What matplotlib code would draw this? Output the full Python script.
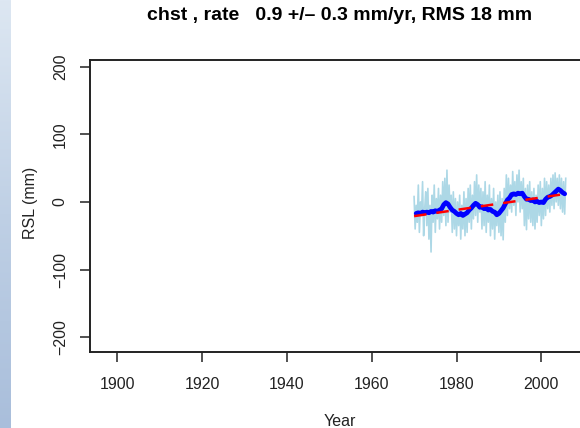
import matplotlib
matplotlib.use("Agg")
import matplotlib.pyplot as plt
from matplotlib.colors import LinearSegmentedColormap
import numpy as np

# residual sea level (quarterly samples), mm
raw_years = np.arange(1970.0, 2006.0, 0.25)
raw_values = [
    8, -40, -5, -30,
    25, -45, 0, -20,
    30, -50, -10, 15,
    -35, 20, -55, -5,
    -74, 10, -30, 25,
    -45, 5, -25, 20,
    -40, 10, -30, 30,
    -20, 35, -35, 47,
    -30, 25, -15, 10,
    -45, 15, -40, 5,
    -50, 0, -35, 10,
    -55, -5, -40, 15,
    -50, 5, -45, 20,
    -30, 25, -40, 10,
    -25, 30, -20, 40,
    -30, 25, -15, 20,
    -40, 15, -35, 30,
    -45, 10, -30, 25,
    -50, 5, -40, 20,
    -55, 0, -35, 10,
    -45, 15, -50, 5,
    -56, 20, -30, 40,
    -20, 35, -10, 25,
    -15, 45, -5, 30,
    -20, 40, 0, 47,
    -15, 30, -10, 35,
    -35, 20, -41, 25,
    -25, 30, -30, 15,
    -35, 20, -40, 10,
    -30, 25, -20, 30,
    -35, 20, -25, 35,
    -20, 30, -10, 25,
    -15, 35, -5, 40,
    -10, 43, 0, 35,
    -5, 40, -10, 35,
    -15, 30, -18, 35,
]

# smoothed series (half-year samples)
smooth_years = np.arange(1970.5, 2005.75, 0.5)
smooth_values = [
    -17, -16, -17, -15, -16, -15, -16, -14, -15, -13,
    -14, -12, -10, -4, -1, -3, -8, -12, -14, -17,
    -19, -17, -20, -18, -16, -12, -9, -5, -2, -4,
    -8, -7, -10, -9, -12, -11, -14, -15, -19, -17,
    -13, -9, -3, 3, 6, 11, 12, 11, 13, 12,
    13, 8, 4, 4, 2, 3, 0, 1, -1, 0,
    -1, 4, 7, 8, 10, 13, 16, 19, 17, 14,
    12,
]

# linear trend end points
trend_years = [1970.0, 2005.8]
trend_values = [-21, 12]

x_ticks = [1900, 1920, 1940, 1960, 1980, 2000]
y_ticks = [-200, -100, 0, 100, 200]

plt.rcParams['font.family'] = ['Liberation Sans', 'DejaVu Sans']

W, H = 580, 428
fig = plt.figure(figsize=(W / 100, H / 100), dpi=100)
fig.patch.set_facecolor('white')

# page background strip on the left
bg = fig.add_axes([0, 0, 11 / W, 1])
grad = np.linspace(0, 1, 256).reshape(-1, 1)
cmap = LinearSegmentedColormap.from_list('bg', ['#dde7f2', '#bfd0e5', '#a9bedb'])
bg.imshow(grad, aspect='auto', cmap=cmap, extent=[0, 1, 0, 1], origin='upper')
bg.axis('off')

ax = fig.add_axes([90 / W, (H - 352) / H, (588 - 90) / W, (352 - 60) / H])
ax.plot(raw_years, raw_values, color='#add8e6', lw=1.2)
ax.plot(smooth_years, smooth_values, color='#0000ff', lw=3.4, solid_capstyle='round')
ax.plot(trend_years, trend_values, color='#ff0000', lw=1.8, dashes=(5, 4))

ax.set_xlim(1893.6, 2011)
ax.set_ylim(-222, 210)
ax.set_xticks(x_ticks)
ax.set_yticks(y_ticks)
ax.set_yticklabels([str(v).replace('-', '\u2212') for v in y_ticks],
                   rotation=90, va='center')
ax.tick_params(direction='out', length=7, width=1.2, labelsize=11.5,
               color='#333333', labelcolor='#222222')
ax.tick_params(axis='x', pad=11)
ax.tick_params(axis='y', pad=9)
for s in ax.spines.values():
    s.set_linewidth(1.4)
    s.set_color('#222222')

fig.text(340 / W, 1 - 16 / H, 'chst , rate   0.9 +/\u2013 0.3 mm/yr, RMS 18 mm',
         ha='center', va='center', fontsize=14, fontweight='bold')
fig.text(340 / W, 1 - 421 / H, 'Year', ha='center', va='center',
         fontsize=11.5, color='#222222')
fig.text(30 / W, 1 - 203 / H, 'RSL (mm)', ha='center', va='center',
         rotation=90, fontsize=11.5, color='#222222')

fig.savefig('out.png', dpi=100)
